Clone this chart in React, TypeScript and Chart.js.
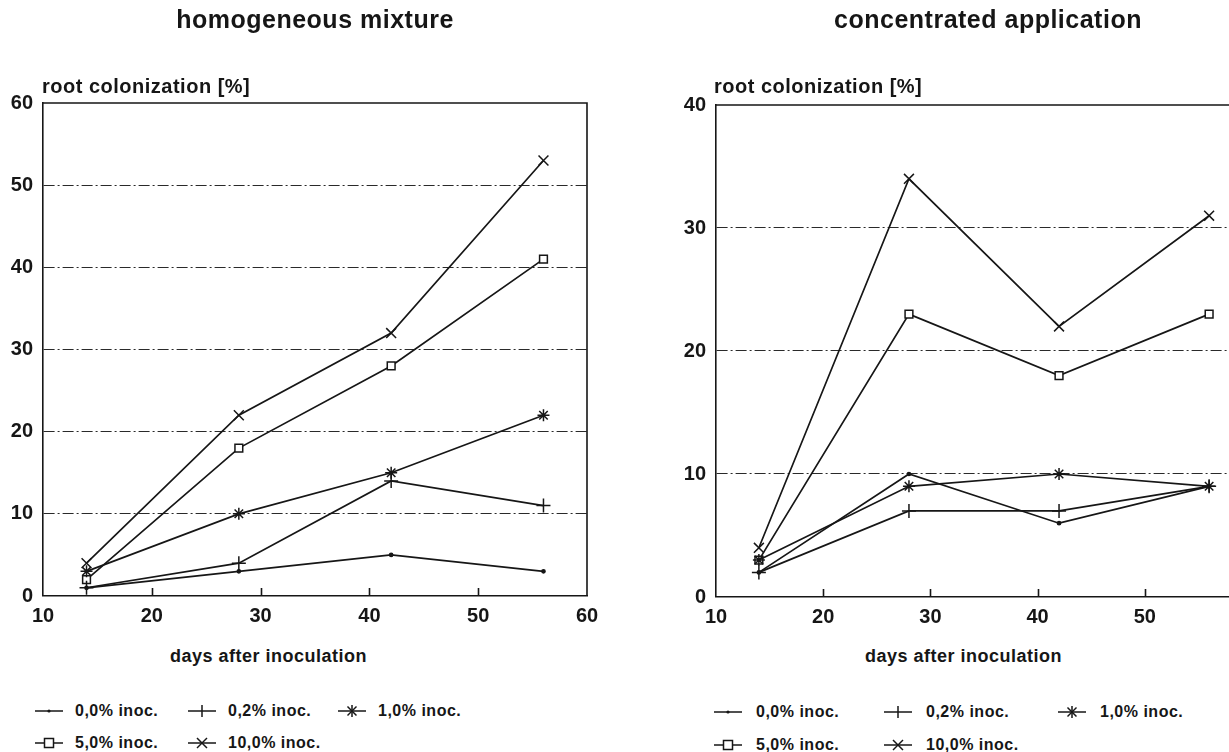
import React, { useEffect, useRef } from "react";
import { Chart, registerables } from "chart.js";

Chart.register(...registerables);

// ---------- data ----------
const days = [14, 28, 42, 56];
const seriesLabels = ["0,0% inoc.", "0,2% inoc.", "1,0% inoc.", "5,0% inoc.", "10,0% inoc."];

const homInoc00 = [1, 3, 5, 3];
const homInoc02 = [1, 4, 14, 11];
const homInoc10 = [3, 10, 15, 22];
const homInoc50 = [2, 18, 28, 41];
const homInoc100 = [4, 22, 32, 53];

const conInoc00 = [2, 10, 6, 9];
const conInoc02 = [2, 7, 7, 9];
const conInoc10 = [3, 9, 10, 9];
const conInoc50 = [3, 23, 18, 23];
const conInoc100 = [4, 34, 22, 31];

const xMin = 10;
const xMax = 60;
const xStep = 10;
const yStep = 10;
const yMaxLeft = 60;
const yMaxRight = 40;

const homSeries = [homInoc00, homInoc02, homInoc10, homInoc50, homInoc100];
const conSeries = [conInoc00, conInoc02, conInoc10, conInoc50, conInoc100];

// ---------- styles ----------
const INK = "#161616";
const FONT = "'Liberation Sans', Arial, Helvetica, sans-serif";
const pointStyles = ["circle", "cross", "star", "rect", "crossRot"];
const pointRadii = [1.6, 7, 6, 5.5, 7];
const pointFills = [INK, INK, INK, "#ffffff", INK];

const framePlugin = {
  id: "frameAndTicks",
  beforeDatasetsDraw(chart: any) {
    const { ctx, chartArea, scales } = chart;
    const { left, right, top, bottom } = chartArea;
    const x = scales.x;
    ctx.save();
    ctx.strokeStyle = INK;
    ctx.lineWidth = 1.6;
    ctx.setLineDash([]);
    ctx.beginPath();
    ctx.moveTo(left, top);
    ctx.lineTo(right, top);
    ctx.lineTo(right, bottom);
    x.ticks.forEach((t: any) => {
      if (t.value > x.min && t.value < x.max) {
        const px = Math.round(x.getPixelForValue(t.value)) + 0.5;
        ctx.moveTo(px, bottom);
        ctx.lineTo(px, bottom - 8);
      }
    });
    ctx.stroke();
    ctx.restore();
  },
};

type PlotProps = {
  series: number[][];
  yMax: number;
  width: number;
  height: number;
  left: number;
  pad: { top: number; right: number; bottom: number; left: number };
  yAxisWidth: number;
  xAxisHeight: number;
};

function Plot({ series, yMax, width, height, left, pad, yAxisWidth, xAxisHeight }: PlotProps) {
  const ref = useRef<HTMLCanvasElement | null>(null);
  useEffect(() => {
    if (!ref.current) return;
    const datasets = series.map((vals, i) => ({
      label: seriesLabels[i],
      data: days.map((d, j) => ({ x: d, y: vals[j] })),
      borderColor: INK,
      borderWidth: 1.7,
      pointStyle: pointStyles[i] as any,
      pointRadius: pointRadii[i],
      pointBorderWidth: 1.5,
      pointBorderColor: INK,
      pointBackgroundColor: pointFills[i],
      tension: 0,
      fill: false,
    }));
    const chart = new Chart(ref.current, {
      type: "line",
      data: { datasets },
      plugins: [framePlugin],
      options: {
        animation: false,
        responsive: false,
        devicePixelRatio: 1,
        events: [],
        layout: { padding: pad },
        plugins: { legend: { display: false }, tooltip: { enabled: false }, title: { display: false } },
        scales: {
          x: {
            type: "linear",
            min: xMin,
            max: xMax,
            afterFit: (s: any) => {
              s.height = xAxisHeight;
            },
            ticks: {
              stepSize: xStep,
              color: INK,
              padding: 8,
              maxRotation: 0,
              font: { family: FONT, size: 20, weight: "bold" },
            },
            grid: { display: false, drawTicks: false },
            border: { display: true, color: INK, width: 1.6 },
          },
          y: {
            min: 0,
            max: yMax,
            afterFit: (s: any) => {
              s.width = yAxisWidth;
            },
            ticks: {
              stepSize: yStep,
              color: INK,
              padding: 10,
              font: { family: FONT, size: 20, weight: "bold" },
            },
            grid: {
              drawTicks: false,
              lineWidth: 1.1,
              color: (c: any) =>
                c.tick && (c.tick.value === 0 || c.tick.value === yMax) ? "rgba(0,0,0,0)" : "#2a2a2a",
            },
            border: { display: true, color: INK, width: 1.6, dash: [11, 3, 2, 3] },
          },
        },
      },
    });
    return () => chart.destroy();
  }, []);
  return (
    <canvas
      ref={ref}
      width={width}
      height={height}
      style={{ position: "absolute", left, top: 0, width, height }}
    />
  );
}

function LegendSymbol({ kind }: { kind: string }) {
  const c = INK;
  const cx = 14;
  const cy = 8;
  let mark: any = null;
  if (kind === "circle") mark = <circle cx={cx} cy={cy} r={1.6} fill={c} />;
  if (kind === "cross")
    mark = <line x1={cx} y1={cy - 6} x2={cx} y2={cy + 6} stroke={c} strokeWidth={1.5} />;
  if (kind === "star")
    mark = (
      <g stroke={c} strokeWidth={1.5}>
        <line x1={cx} y1={cy - 6} x2={cx} y2={cy + 6} />
        <line x1={cx - 4.5} y1={cy - 4.5} x2={cx + 4.5} y2={cy + 4.5} />
        <line x1={cx - 4.5} y1={cy + 4.5} x2={cx + 4.5} y2={cy - 4.5} />
      </g>
    );
  if (kind === "rect")
    mark = <rect x={cx - 4.5} y={cy - 4.5} width={9} height={9} fill="#fff" stroke={c} strokeWidth={1.5} />;
  if (kind === "crossRot")
    mark = (
      <g stroke={c} strokeWidth={1.5}>
        <line x1={cx - 5} y1={cy - 5} x2={cx + 5} y2={cy + 5} />
        <line x1={cx - 5} y1={cy + 5} x2={cx + 5} y2={cy - 5} />
      </g>
    );
  return (
    <svg width={28} height={16} style={{ position: "absolute", left: 0, top: -8 }}>
      <line x1={0} y1={cy} x2={28} y2={cy} stroke={c} strokeWidth={1.5} />
      {mark}
    </svg>
  );
}

function Legend({ cols, textOffset, rowsY }: { cols: number[]; textOffset: number; rowsY: number[] }) {
  return (
    <>
      {seriesLabels.map((lab, i) => {
        const col = i % 3;
        const row = Math.floor(i / 3);
        return (
          <div key={lab} style={{ position: "absolute", left: cols[col], top: rowsY[row], height: 0 }}>
            <LegendSymbol kind={pointStyles[i]} />
            <span
              style={{
                position: "absolute",
                left: textOffset,
                top: -10,
                font: `bold 16px ${FONT}`,
                lineHeight: "20px",
                whiteSpace: "nowrap",
                color: INK,
                letterSpacing: "0.5px",
              }}
            >
              {lab}
            </span>
          </div>
        );
      })}
    </>
  );
}

const txt = (size: number, extra: any) => ({
  position: "absolute" as const,
  font: `bold ${size}px ${FONT}`,
  lineHeight: `${size}px`,
  whiteSpace: "nowrap" as const,
  color: INK,
  letterSpacing: "0.5px",
  ...extra,
});

export default function App() {
  return (
    <div
      style={{
        position: "fixed",
        left: 0,
        top: 0,
        width: 1229,
        height: 752,
        overflow: "hidden",
        background: "#fff",
      }}
    >
      <Plot
        series={homSeries}
        yMax={yMaxLeft}
        width={640}
        height={640}
        left={0}
        pad={{ top: 103, right: 53, bottom: 8, left: 0 }}
        yAxisWidth={43}
        xAxisHeight={36}
      />
      <Plot
        series={conSeries}
        yMax={yMaxRight}
        width={620}
        height={640}
        left={660}
        pad={{ top: 105, right: 28, bottom: 7, left: 0 }}
        yAxisWidth={56}
        xAxisHeight={36}
      />

      <div style={txt(25, { left: 43, width: 544, top: 7, textAlign: "center" })}>homogeneous mixture</div>
      <div style={txt(25, { left: 716, width: 544, top: 7, textAlign: "center" })}>concentrated application</div>

      <div style={txt(20, { left: 42, top: 76 })}>root colonization [%]</div>
      <div style={txt(20, { left: 714, top: 76 })}>root colonization [%]</div>

      <div style={txt(18, { left: 170, top: 647 })}>days after inoculation</div>
      <div style={txt(18, { left: 865, top: 647 })}>days after inoculation</div>

      <Legend cols={[35, 188, 338]} textOffset={40} rowsY={[711, 743]} />
      <Legend cols={[714, 884, 1058]} textOffset={42} rowsY={[712, 745]} />
    </div>
  );
}
